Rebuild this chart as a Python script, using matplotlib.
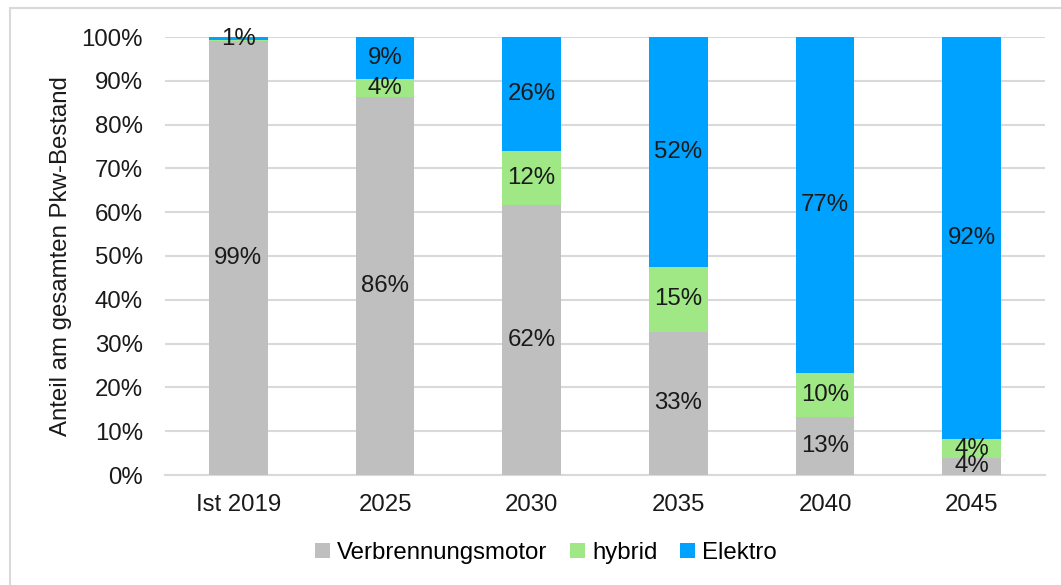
import matplotlib
matplotlib.use("Agg")
import matplotlib.pyplot as plt
from matplotlib.patches import Rectangle
import numpy as np

plt.rcParams['font.family'] = ['Liberation Sans', 'DejaVu Sans']

categories = ["Ist 2019", "2025", "2030", "2035", "2040", "2045"]
verbrennung = [99.1, 86.3, 61.6, 32.7, 13.2, 3.9]
hybrid = [0.2, 4.2, 12.4, 14.8, 10.1, 4.3]
elektro = [0.7, 9.5, 26.0, 52.5, 76.7, 91.8]
labels_v = ["99%", "86%", "62%", "33%", "13%", "4%"]
labels_h = ["", "4%", "12%", "15%", "10%", "4%"]
labels_e = ["1%", "9%", "26%", "52%", "77%", "92%"]
series_names = ["Verbrennungsmotor", "hybrid", "Elektro"]
colors = ["#BFBFBF", "#A0E786", "#00A2FF"]

fig = plt.figure(figsize=(10.61, 5.85), dpi=100)
ax = fig.add_axes([165/1061, 110/585, 880/1061, 438/585])

x = np.arange(len(categories))
v = np.array(verbrennung) / 100
h = np.array(hybrid) / 100
e = np.array(elektro) / 100
w = 0.4
b1 = ax.bar(x, v, w, color=colors[0], label=series_names[0], zorder=3)
b2 = ax.bar(x, h, w, bottom=v, color=colors[1], label=series_names[1], zorder=3)
b3 = ax.bar(x, e, w, bottom=v + h, color=colors[2], label=series_names[2], zorder=3)

fs = 17.3
for bars, labs, bottoms, vals in [(b1, labels_v, np.zeros(len(x)), v),
                                  (b2, labels_h, v, h),
                                  (b3, labels_e, v + h, e)]:
    for i, lab in enumerate(labs):
        if lab:
            ax.text(x[i], bottoms[i] + vals[i] / 2, lab, ha='center', va='center',
                    fontsize=fs, color='#1a1a1a', zorder=4)

ax.set_xlim(-0.5, len(categories) - 0.5)
ax.set_ylim(0, 1)
ax.set_yticks(np.arange(0, 1.01, 0.1))
ax.set_yticklabels([f"{int(round(t*100))}%" for t in np.arange(0, 1.01, 0.1)])
ax.set_xticks(x)
ax.set_xticklabels(categories)
ax.tick_params(axis='both', length=0, labelsize=fs, colors='#1a1a1a')
ax.tick_params(axis='y', pad=16)
ax.tick_params(axis='x', pad=14)
ax.grid(axis='y', color='#D9D9D9', linewidth=1.5, zorder=0)
for s in ['top', 'right', 'left']:
    ax.spines[s].set_visible(False)
ax.spines['bottom'].set_color('#D9D9D9')
ax.spines['bottom'].set_linewidth(1.5)
ax.set_ylabel("Anteil am gesamten Pkw-Bestand", fontsize=fs, color='#1a1a1a', labelpad=7)

leg = fig.legend(handles=[b1, b2, b3], labels=series_names, loc='center',
                 bbox_to_anchor=(546/1061, 1 - 553/585), ncol=3, frameon=False,
                 fontsize=fs, handlelength=0.6, handleheight=0.6, handletextpad=0.3,
                 columnspacing=0.95)

fig.patches.append(Rectangle((10/1061, -0.02), 1.05, 1 - 8/585 + 0.02,
                             transform=fig.transFigure, fill=False,
                             edgecolor='#D9D9D9', linewidth=1.5))

fig.savefig("out.png", dpi=100)
